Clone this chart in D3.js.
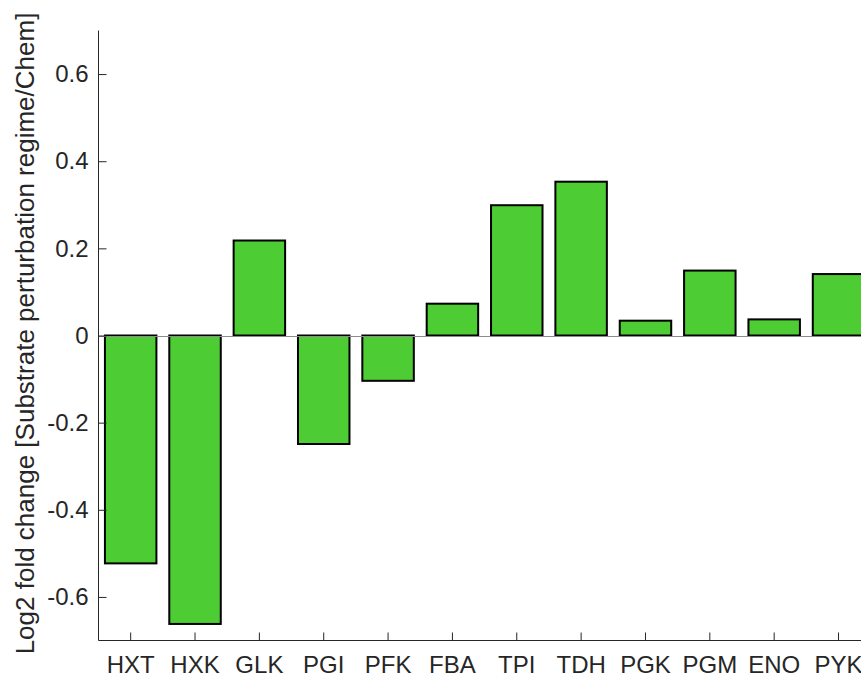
<!DOCTYPE html>
<html>
<head>
<meta charset="utf-8">
<script src="https://cdn.jsdelivr.net/npm/d3@7"></script>
<style>
  html, body { margin: 0; padding: 0; background: #fff; }
  svg { display: block; font-family: "Liberation Sans", Arial, Helvetica, sans-serif; }
</style>
</head>
<body>
<svg id="chart" width="861" height="675"></svg>
<script>
// Glycolytic enzymes and their log2 fold change
const enzymes = ["HXT", "HXK", "GLK", "PGI", "PFK", "FBA", "TPI", "TDH", "PGK", "PGM", "ENO", "PYK"];
const log2Fold = [-0.523, -0.662, 0.218, -0.249, -0.104, 0.073, 0.299, 0.353, 0.034, 0.149, 0.037, 0.141];
const yTicks = [-0.6, -0.4, -0.2, 0, 0.2, 0.4, 0.6];
const yTickLabels = ["-0.6", "-0.4", "-0.2", "0", "0.2", "0.4", "0.6"];
const yLabel = "Log2 fold change [Substrate perturbation regime/Chem]";

const svg = d3.select("#chart");
const plotLeft = 98.5, plotRight = 870.7, plotTop = 30.5, plotBottom = 640.5;
const axisColor = "#262626";
const tickFont = 24, labelFont = 26;

const x = d3.scaleBand().domain(enzymes).range([plotLeft, plotRight]).paddingInner(0.2).paddingOuter(0.1);
const y = d3.scaleLinear().domain([-0.7, 0.7]).range([plotBottom, plotTop]);

// bars
svg.append("g").selectAll("rect")
  .data(enzymes.map((e, i) => ({ e, v: log2Fold[i] })))
  .join("rect")
  .attr("x", d => x(d.e))
  .attr("width", x.bandwidth())
  .attr("y", d => y(Math.max(0, d.v)))
  .attr("height", d => Math.abs(y(d.v) - y(0)))
  .attr("fill", "#4dcc33")
  .attr("stroke", "#000")
  .attr("stroke-width", 2);

// baseline at zero
svg.append("line")
  .attr("x1", plotLeft).attr("x2", plotRight)
  .attr("y1", Math.round(y(0)) + 0.5).attr("y2", Math.round(y(0)) + 0.5)
  .attr("stroke", "#8c8c8c").attr("stroke-width", 1);

// y axis
const yAxis = d3.axisLeft(y)
  .tickValues(yTicks)
  .tickFormat((d, i) => yTickLabels[i])
  .tickSizeInner(-8).tickSizeOuter(0).tickPadding(10);
const gy = svg.append("g").attr("transform", `translate(${plotLeft},0)`).call(yAxis)
  .attr("font-size", tickFont).attr("font-family", "Liberation Sans, Arial, sans-serif");
gy.select(".domain").attr("stroke", axisColor).attr("d", `M0,${plotTop}V${plotBottom}`);
gy.selectAll(".tick line").attr("stroke", axisColor);
gy.selectAll(".tick text").attr("fill", axisColor);

// x axis
const xAxis = d3.axisBottom(x).tickSizeInner(-8).tickSizeOuter(0).tickPadding(15);
const gx = svg.append("g").attr("transform", `translate(0,${plotBottom})`).call(xAxis)
  .attr("font-size", tickFont).attr("font-family", "Liberation Sans, Arial, sans-serif");
gx.select(".domain").attr("stroke", axisColor).attr("d", `M${plotLeft},0H${plotRight}`);
gx.selectAll(".tick line").attr("stroke", axisColor);
gx.selectAll(".tick text").attr("fill", axisColor);

// y label
svg.append("text")
  .attr("transform", `translate(34,333.5) rotate(-90)`)
  .attr("text-anchor", "middle")
  .attr("fill", axisColor)
  .attr("font-size", labelFont)
  .text(yLabel);
</script>
</body>
</html>
